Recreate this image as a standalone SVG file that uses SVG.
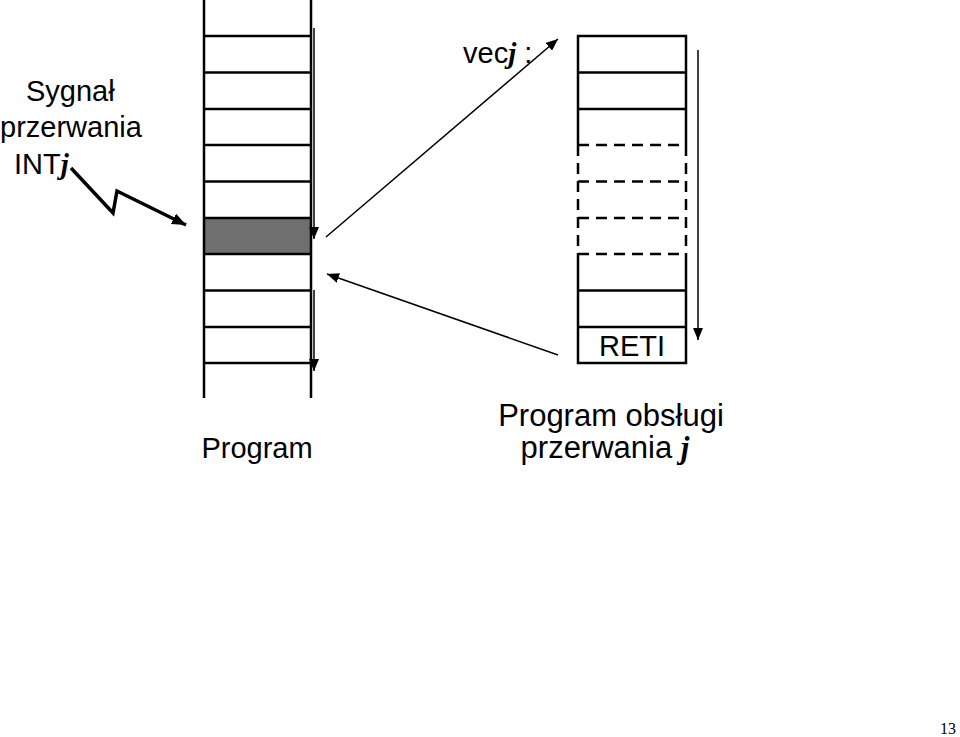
<svg xmlns="http://www.w3.org/2000/svg" width="960" height="737" viewBox="0 0 960 737">
<defs>
<marker id="ah" viewBox="0 0 12 10" refX="12" refY="5" markerWidth="12" markerHeight="10" markerUnits="userSpaceOnUse" orient="auto">
<path d="M0,0 L12,5 L0,10 Z" fill="#000"/>
</marker>
<marker id="ahb" viewBox="0 0 12 10" refX="12" refY="5" markerWidth="14" markerHeight="12" markerUnits="userSpaceOnUse" orient="auto">
<path d="M0,0 L12,5 L0,10 Z" fill="#000"/>
</marker>
</defs>
<style>
.t{font-family:"Liberation Sans",Arial,sans-serif;font-size:29px;fill:#000}
.big{font-size:31px}
.j{font-family:"Liberation Serif","Times New Roman",serif;font-style:italic;font-weight:bold}
.col{stroke:#000;stroke-width:2.5;fill:none}
.dash{stroke:#000;stroke-width:2.5;fill:none;stroke-dasharray:11,7}
.thin{stroke:#000;stroke-width:1.5;fill:none}
</style>
<rect width="960" height="737" fill="#fff"/>

<g id="program">
<rect x="204" y="218" width="107" height="36" fill="#6f6f6f"/>
<line class="col" x1="204" y1="0" x2="204" y2="398"/>
<line class="col" x1="311" y1="0" x2="311" y2="398"/>
<path class="col" d="M204,36H311M204,72.5H311M204,109H311M204,145H311M204,181.5H311M204,218H311M204,254H311M204,290.5H311M204,327H311M204,363H311"/>
</g>

<g id="isr">
<path class="col" d="M578,145V36H686V145M578,72.5H686M578,109H686"/>
<path class="dash" d="M578,145H686M578,181.5H686M578,218H686M578,254H686M578,145V254M686,145V254"/>
<path class="col" d="M578,254V363H686V254M578,290.5H686M578,327H686"/>
<text class="t" x="632" y="356" text-anchor="middle">RETI</text>
</g>

<g id="labels">
<text class="t" x="26" y="101">Sygnał</text>
<text class="t" x="0" y="137">przerwania</text>
<text class="t" x="14" y="174">INT<tspan class="j">j</tspan></text>
<text class="t" x="463" y="63">vec<tspan class="j">j</tspan> :</text>
<text class="t" x="257" y="458" text-anchor="middle">Program</text>
<text class="t big" x="611" y="426" text-anchor="middle">Program obsługi</text>
<text class="t big" x="605" y="458" text-anchor="middle">przerwania  <tspan class="j">j</tspan></text>
<text x="940" y="734" font-family="Liberation Serif,serif" font-size="16">13</text>
</g>

<g id="connectors">
<line class="thin" x1="314" y1="28" x2="314" y2="239" marker-end="url(#ah)"/>
<line class="thin" x1="314" y1="290" x2="314" y2="371" marker-end="url(#ah)"/>
<line class="thin" x1="698" y1="50" x2="698" y2="340" marker-end="url(#ah)"/>
<line class="thin" x1="326" y1="237" x2="558" y2="39" marker-end="url(#ah)"/>
<line class="thin" x1="558" y1="355" x2="327" y2="274" marker-end="url(#ah)"/>
<polyline points="71,168 113,213 117,191 186,225" fill="none" stroke="#000" stroke-width="3.5" stroke-linejoin="miter" marker-end="url(#ahb)"/>
</g>
</svg>
